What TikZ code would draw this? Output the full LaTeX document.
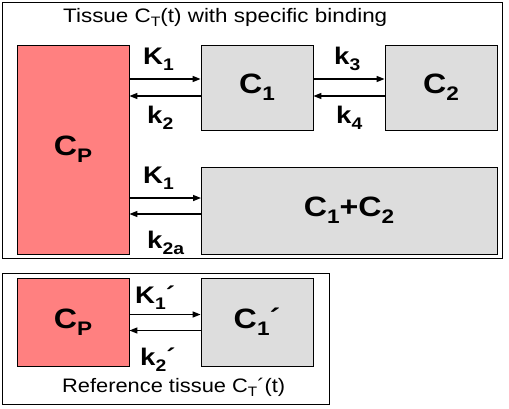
\documentclass[tikz,border=0pt]{standalone}
\usepackage{fontspec}
\setmainfont{Liberation Sans}
\usetikzlibrary{arrows.meta}
\definecolor{plasma}{RGB}{255,128,128}
\definecolor{tissue}{RGB}{221,221,221}
\newcommand{\wide}[1]{\scalebox{1.15}[1]{#1}}
\newcommand{\sub}[1]{\raisebox{-0.25em}{\scalebox{0.7}{#1}}}
\tikzset{
  comp/.style={draw=black, line width=0.8pt, inner sep=0pt, font=\fontsize{28}{32}\selectfont\bfseries},
  rate/.style={anchor=base west, inner sep=0pt, font=\fontsize{24}{28}\selectfont\bfseries},
  caption/.style={anchor=base west, inner sep=0pt, font=\fontsize{19.5}{23}\selectfont},
  flow/.style={line width=1.4pt, -{Triangle[length=8pt,width=6pt]}},
  frame/.style={draw=black, line width=0.8pt},
}
\begin{document}
\begin{tikzpicture}[x=1pt,y=-1pt]
\useasboundingbox (0,0) rectangle (509,408);
%% tissue with specific binding
\draw[frame] (2,2) rectangle (502,258);
\node[caption] (title) at (63,22) {\scalebox{1.15}[1]{Tissue C\sub{T}(t) with specific binding}};
\node[comp, fill=plasma, minimum width=112pt, minimum height=209pt] (cp) at (73,149.5) {\wide{C\sub{P}}};
\node[comp, fill=tissue, minimum width=112pt, minimum height=85pt] (c1) at (257,87.5) {\wide{C\sub{1}}};
\node[comp, fill=tissue, minimum width=112pt, minimum height=85pt] (c2) at (441,87.5) {\wide{C\sub{2}}};
\node[comp, fill=tissue, minimum width=296pt, minimum height=87pt] (c12) at (349,210.5) {\wide{C\sub{1}+C\sub{2}}};
\draw[flow] ([yshift=8.5pt]c1.west -| cp.east) -- ([yshift=8.5pt]c1.west);
\draw[flow] ([yshift=-8.5pt]c1.west) -- ([yshift=-8.5pt]c1.west -| cp.east);
\draw[flow] ([yshift=8.5pt]c1.east) -- ([yshift=8.5pt]c2.west);
\draw[flow] ([yshift=-8.5pt]c2.west) -- ([yshift=-8.5pt]c1.east);
\coordinate (low) at (201,206);
\draw[flow] ([yshift=8pt]low -| cp.east) -- ([yshift=8pt]low);
\draw[flow] ([yshift=-8pt]low) -- ([yshift=-8pt]low -| cp.east);
\node[rate] (K1a) at (143,64) {\wide{K\sub{1}}};
\node[rate] (k2) at (147,123) {\wide{k\sub{2}}};
\node[rate] (k3) at (334,64) {\wide{k\sub{3}}};
\node[rate] (k4) at (336,123) {\wide{k\sub{4}}};
\node[rate] (K1b) at (143,183) {\wide{K\sub{1}}};
\node[rate] (k2a) at (147,248) {\wide{k\sub{2a}}};
%% reference tissue
\draw[frame] (2,273) rectangle (329,404);
\node[comp, fill=plasma, minimum width=112pt, minimum height=88pt] (cpr) at (73,322) {\wide{C\sub{P}}};
\node[comp, fill=tissue, minimum width=112pt, minimum height=88pt] (c1r) at (257,322) {\wide{C\sub{1}´}};
\draw[flow] ([yshift=7.5pt]c1r.west -| cpr.east) -- ([yshift=7.5pt]c1r.west);
\draw[flow] ([yshift=-8.5pt]c1r.west) -- ([yshift=-8.5pt]c1r.west -| cpr.east);
\node[rate] (K1r) at (135,303) {\wide{K\sub{1}´}};
\node[rate] (k2r) at (140,365) {\wide{k\sub{2}´}};
\node[caption] (reftitle) at (62,392) {\scalebox{1.12}[1]{Reference tissue C\sub{T}´(t)}};
\end{tikzpicture}
\end{document}
